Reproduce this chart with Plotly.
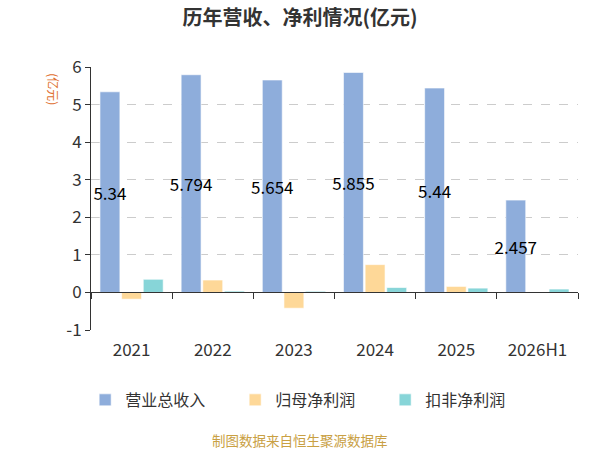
import plotly.graph_objects as go

years = ["2021", "2022", "2023", "2024", "2025", "2026H1"]
revenue = [5.34, 5.794, 5.654, 5.855, 5.44, 2.457]
revenue_text = ["5.34", "5.794", "5.654", "5.855", "5.44", "2.457"]
net_profit = [-0.18, 0.33, -0.42, 0.74, 0.16, None]
deducted_profit = [0.35, 0.035, 0.03, 0.13, 0.115, 0.09]
y_ticks = [-1, 0, 1, 2, 3, 4, 5, 6]
y_tick_text = ["-1", "0", "1", "2", "3", "4", "5", "6"]

font_family = "Noto Sans CJK SC, Noto Sans, sans-serif"
edge = dict(width=1, color="rgba(255,255,255,0.6)")

fig = go.Figure()

fig.add_trace(go.Bar(
    x=years, y=revenue, name="营业总收入",
    marker=dict(color="#8eaddb", line=edge),
    text=revenue_text, textposition="inside", insidetextanchor="middle",
    textangle=0, constraintext="none",
    textfont=dict(size=17, color="#000000"),
    cliponaxis=False,
))
fig.add_trace(go.Bar(
    x=years, y=net_profit, name="归母净利润",
    marker=dict(color="#fed898", line=edge),
))
fig.add_trace(go.Bar(
    x=years, y=deducted_profit, name="扣非净利润",
    marker=dict(color="#87d5d8", line=edge),
))

# helper axis drawn along y=0 with category boundary ticks
fig.add_trace(go.Scatter(
    x=years, y=[None] * len(years), xaxis="x2", mode="markers",
    showlegend=False, hoverinfo="skip",
))

fig.update_layout(
    width=600, height=450,
    paper_bgcolor="white", plot_bgcolor="white",
    font=dict(family=font_family, color="#333333"),
    title=dict(
        text="<b>历年营收、净利情况(亿元)</b>",
        x=0.5, xanchor="center", y=0.96, yanchor="middle",
        font=dict(size=20, color="#333333"),
    ),
    margin=dict(l=91, r=22, t=67, b=120),
    barmode="group", bargap=0.2, bargroupgap=0.08,
    xaxis=dict(
        type="category", categoryarray=years, range=[-0.5, 5.5],
        showline=False, showgrid=False, zeroline=False,
        ticks="outside", ticklen=5, tickcolor="rgba(0,0,0,0)",
        tickfont=dict(size=17, color="#333333"),
    ),
    xaxis2=dict(
        type="category", categoryarray=years, range=[-0.5, 5.5],
        overlaying="x", anchor="free", position=1 / 7,
        showline=True, linecolor="#333333", linewidth=1,
        ticks="outside", tickson="boundaries", ticklen=6,
        tickcolor="#333333", showticklabels=False, showgrid=False,
    ),
    yaxis=dict(
        range=[-1, 6], tickvals=y_ticks, ticktext=y_tick_text,
        showline=True, linecolor="#333333", linewidth=1,
        ticks="outside", ticklen=5, tickcolor="#333333",
        tickfont=dict(size=17, color="#333333"),
        showgrid=True, gridcolor="#cccccc", griddash="dash", gridwidth=1,
        zeroline=False,
    ),
    legend=dict(
        orientation="h", x=-0.012, xanchor="left", y=-0.266, yanchor="middle",
        font=dict(size=16, color="#333333"), entrywidth=105,
        traceorder="normal",
    ),
    annotations=[
        dict(
            text="(亿元)", xref="paper", yref="paper", x=-0.1, y=0.985,
            showarrow=False, textangle=90,
            font=dict(size=12, color="#e07030"),
        ),
        dict(
            text="制图数据来自恒生聚源数据库", xref="paper", yref="paper",
            x=0.43, y=-0.42, xanchor="center", yanchor="middle",
            showarrow=False, font=dict(size=13.5, color="#c9a043"),
        ),
    ],
)

fig.write_html(
    "out.html",
    config={"displayModeBar": False},
    post_script="document.body.style.margin='0';",
)
